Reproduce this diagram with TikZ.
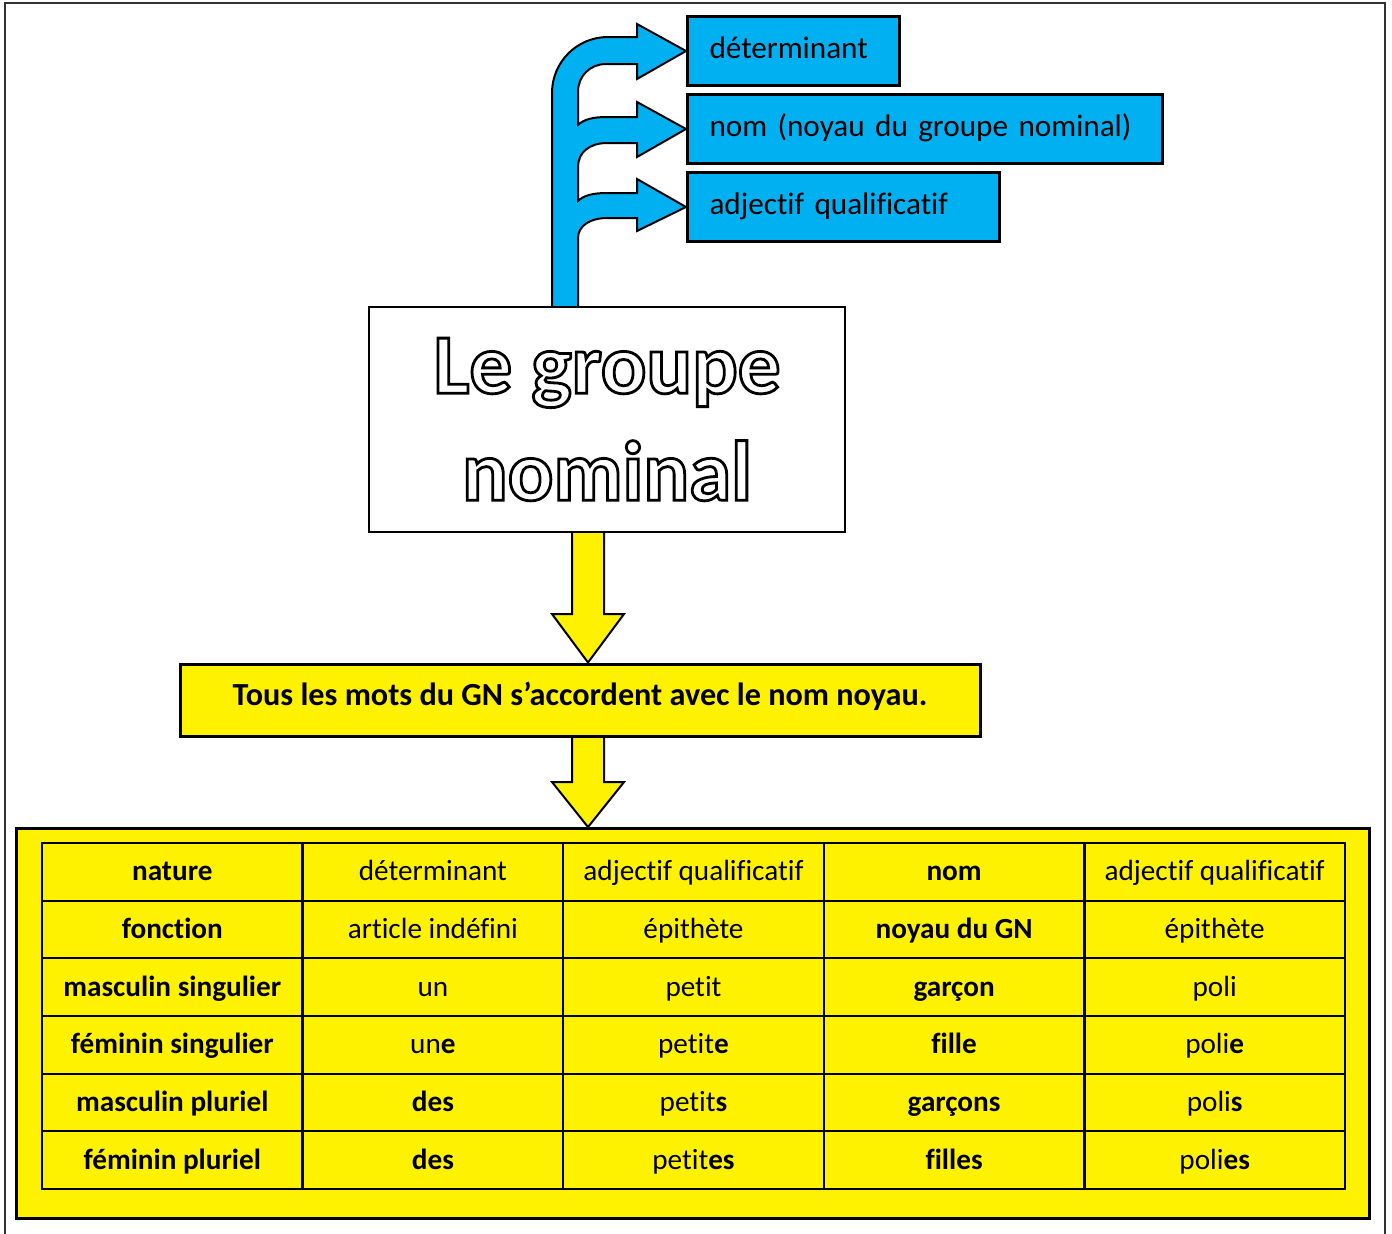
\documentclass[tikz,border=0pt]{standalone}
\usepackage{fontspec}
\setmainfont[Ligatures=CommonOff]{Carlito}
\usepackage{tikz}
\usetikzlibrary{fit,shapes,calc,matrix,positioning,backgrounds}
\definecolor{gnblue}{HTML}{00B0F0}
\newcommand{\hollow}[1]{\special{pdf:literal direct 1 Tr 1.4 w}#1\special{pdf:literal direct 0 Tr 0.4 w}}

\begin{document}
\begin{tikzpicture}[x=0.5pt,y=-0.5pt,
    bluebox/.style={draw, line width=1.5pt, fill=gnblue, anchor=west, inner xsep=11pt, align=left,
        minimum height=34.5pt, text height=10pt, text depth=3pt, font=\fontsize{15.6}{19}\selectfont},
    bluearrow/.style={draw, line width=1pt, fill=gnblue},
    yellowarrow/.style={draw, line width=1pt, fill=yellow}]
        \useasboundingbox (0,0) rectangle (1392,1233);
        \draw[black!80, line width=1pt] (5,1240) -- (5,3) -- (1385,3) -- (1385,1240);

        \node[bluebox, text width=84pt] (det) at (686,51) {\mbox{déterminant}};
        \node[bluebox, text width=215.5pt, below=3pt of det.south west, anchor=north west] (nom) {\mbox{nom (noyau du groupe nominal)}};
        \node[bluebox, text width=134pt, below=3pt of nom.south west, anchor=north west] (adj) {\mbox{adjectif qualificatif}};

        \node[draw, line width=1pt, fill=white, minimum width=238pt, minimum height=112.5pt, align=center,
            font=\bfseries\fontsize{42.5}{53.5}\selectfont] (title) at (607,419.5) {\hollow{Le groupe}\\\hollow{nominal}};

        \node[draw, line width=1.5pt, fill=yellow, minimum width=400pt, minimum height=36pt, text height=8pt, text depth=3pt,
            font=\bfseries\fontsize{16.1}{19}\selectfont] (msg) at (580,700) {Tous les mots du GN s’accordent avec le nom noyau.};

        \matrix (tab) at (693.5,1016) [matrix of nodes, nodes in empty cells, inner sep=0pt, row sep=-1.1pt, column sep=-1.1pt,
        nodes={draw, line width=1.1pt, minimum width=130.3pt, minimum height=28.83pt, text height=11.5pt, text depth=2.5pt,
            anchor=center, font=\fontsize{14.6}{17}\selectfont},
        ampersand replacement=\&] {
            \textbf{nature}             \& déterminant      \& adjectif qualificatif \& \textbf{nom}          \& adjectif qualificatif \\
            \textbf{fonction}           \& article indéfini \& épithète              \& \textbf{noyau du GN}  \& épithète              \\
            \textbf{masculin singulier} \& un               \& petit                 \& \textbf{garçon}       \& poli                  \\
            \textbf{féminin singulier}  \& un\textbf{e}     \& petit\textbf{e}       \& \textbf{fille}        \& poli\textbf{e}        \\
            \textbf{masculin pluriel}   \& \textbf{des}     \& petit\textbf{s}       \& \textbf{garçons}      \& poli\textbf{s}        \\
            \textbf{féminin pluriel}    \& \textbf{des}     \& petit\textbf{es}      \& \textbf{filles}       \& poli\textbf{es}       \\
        };

        \coordinate (ax) at (588,0);
        \begin{scope}[on background layer]
        \node[fit={($(tab.north west)+(-24,-13)$) ($(tab.south east)+(23,28)$)}, inner sep=0pt, draw, line width=1.5pt, fill=yellow] (frame) {};
        \draw[bluearrow] (552,310) -- (552,93) .. controls (552,62) and (577,37) .. (608,37) -- (637,37) -- (637,24) -- (det.west)
            -- (637,79) -- (637,64) -- (606,64) .. controls (590,64) and (578,76) .. (578,92)
            -- (578,125) .. controls (584,119) and (594,117) .. (607,117) -- (637,117) -- (637,102) -- (nom.west)
            -- (637,157) -- (637,143) -- (607,143) .. controls (590,143) and (578,152) .. (578,167)
            -- (578,201) .. controls (584,195) and (594,193) .. (607,193) -- (637,193) -- (637,179) -- (adj.west)
            -- (637,231) -- (637,218) -- (607,218) .. controls (590,218) and (578,226) .. (578,238)
            -- (578,310) -- cycle;
        \draw[yellowarrow] (572,528) -- (572,614) -- (552,614) -- (ax |- msg.north) -- (624,614) -- (604,614) -- (604,528) -- cycle;
        \draw[yellowarrow] (572,732) -- (572,782) -- (552,782) -- (ax |- frame.north) -- (624,782) -- (604,782) -- (604,732) -- cycle;
        \end{scope}
\end{tikzpicture}
\end{document}
